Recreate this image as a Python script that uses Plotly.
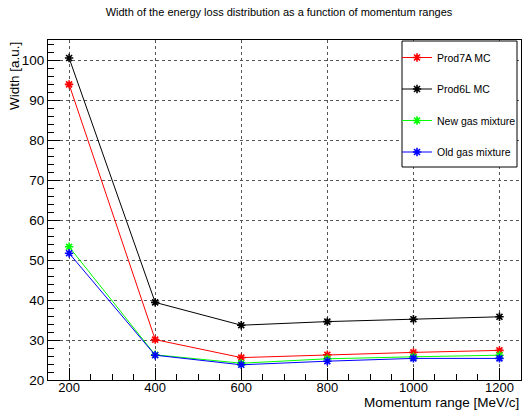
import plotly.graph_objects as go

momentum = [200, 400, 600, 800, 1000, 1200]
prod7a = [93.9, 30.1, 25.6, 26.3, 26.9, 27.4]
prod6l = [100.5, 39.4, 33.7, 34.6, 35.2, 35.8]
new_gas = [53.3, 26.3, 24.2, 25.3, 25.8, 26.2]
old_gas = [51.7, 26.2, 23.8, 24.7, 25.4, 25.4]

names = ["Prod7A MC", "Prod6L MC", "New gas mixture", "Old gas mixture"]
colors = ["#ff0000", "#000000", "#00ff00", "#0000ff"]
series = [prod7a, prod6l, new_gas, old_gas]

FONT = "Liberation Sans, Arial, Helvetica, sans-serif"
W, H = 522, 410
L, R, T, B = 48, 1, 40, 30
PW, PH = W - L - R, H - T - B

fig = go.Figure()
for i, (n, c, s) in enumerate(zip(names, colors, series)):
    fig.add_trace(go.Scatter(
        x=momentum, y=s, name=n, mode="lines+markers",
        legendgroup=str(i),
        line=dict(color=c, width=1),
        marker=dict(symbol="asterisk-open", size=7, color=c,
                    line=dict(color=c, width=1.6)),
    ))

axis_common = dict(
    showline=True, linecolor="black", linewidth=1, mirror=True,
    ticks="inside", ticklen=12, tickcolor="black", tickwidth=1,
    showgrid=True, gridcolor="#555555", griddash="dot", gridwidth=1,
    zeroline=False,
)

fig.update_xaxes(
    range=[151, 1250], tickvals=momentum, ticklabelstandoff=-5,
    tickfont=dict(family=FONT, size=13, color="black"),
    minor=dict(dtick=50, ticks="inside", ticklen=6, tickcolor="black", showgrid=False),
    **axis_common,
)
fig.update_yaxes(
    range=[20, 105], dtick=10, tick0=0,
    tickfont=dict(family=FONT, size=13.5, color="black"),
    minor=dict(dtick=2, ticks="inside", ticklen=6, tickcolor="black", showgrid=False),
    **axis_common,
)

def px_x(p):
    return (p - L) / PW

def px_y(p):
    return 1 - (p - T) / PH

fig.update_layout(
    width=W, height=H,
    margin=dict(l=L, r=R, t=T, b=B),
    paper_bgcolor="white", plot_bgcolor="white",
    font=dict(family=FONT, color="black"),
    title=dict(text="Width of the energy loss distribution as a function of momentum ranges",
               x=279 / W, xanchor="center", y=1 - 12.5 / H, yanchor="middle",
               font=dict(family=FONT, size=11, color="black")),
    showlegend=True,
    legend=dict(
        x=px_x(397), xanchor="left",
        y=px_y(43), yanchor="top",
        borderwidth=0, bgcolor="rgba(0,0,0,0)",
        font=dict(family=FONT, size=10.5, color="black"),
        tracegroupgap=12.5, itemwidth=30,
    ),
    shapes=[
        dict(type="rect", xref="paper", yref="paper",
             x0=px_x(402), x1=px_x(517), y0=px_y(167), y1=px_y(41),
             line=dict(color="black", width=1), fillcolor="white", layer="above"),
    ],
    annotations=[
        dict(text="Momentum range [MeV/c]", xref="paper", yref="paper",
             x=1, xanchor="right", y=-(402.5 - (H - B)) / PH, yanchor="middle",
             showarrow=False, font=dict(family=FONT, size=13.5, color="black")),
        dict(text="Width [a.u.]", textangle=-90, xref="paper", yref="paper",
             x=-(L - 14) / PW, xanchor="center", y=1, yanchor="top",
             showarrow=False, font=dict(family=FONT, size=13.5, color="black")),
    ],
)

fig.write_html("out.html")
